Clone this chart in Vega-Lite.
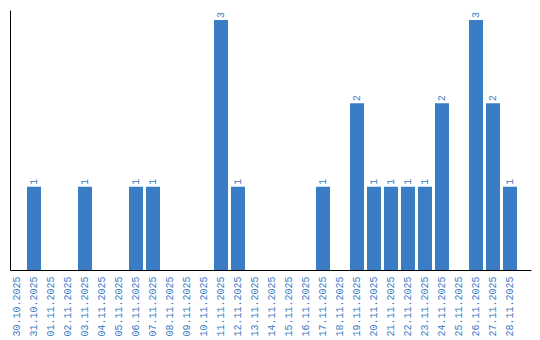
{
  "$schema": "https://vega.github.io/schema/vega-lite/v6.json",
  "width": 521,
  "height": 260,
  "autosize": "none",
  "padding": {"left": 10, "top": 10, "right": 9, "bottom": 70},
  "background": "white",
  "config": {"view": {"stroke": null}},
  "data": {"values": [
    {"date": "30.10.2025", "count": 0},
    {"date": "31.10.2025", "count": 1},
    {"date": "01.11.2025", "count": 0},
    {"date": "02.11.2025", "count": 0},
    {"date": "03.11.2025", "count": 1},
    {"date": "04.11.2025", "count": 0},
    {"date": "05.11.2025", "count": 0},
    {"date": "06.11.2025", "count": 1},
    {"date": "07.11.2025", "count": 1},
    {"date": "08.11.2025", "count": 0},
    {"date": "09.11.2025", "count": 0},
    {"date": "10.11.2025", "count": 0},
    {"date": "11.11.2025", "count": 3},
    {"date": "12.11.2025", "count": 1},
    {"date": "13.11.2025", "count": 0},
    {"date": "14.11.2025", "count": 0},
    {"date": "15.11.2025", "count": 0},
    {"date": "16.11.2025", "count": 0},
    {"date": "17.11.2025", "count": 1},
    {"date": "18.11.2025", "count": 0},
    {"date": "19.11.2025", "count": 2},
    {"date": "20.11.2025", "count": 1},
    {"date": "21.11.2025", "count": 1},
    {"date": "22.11.2025", "count": 1},
    {"date": "23.11.2025", "count": 1},
    {"date": "24.11.2025", "count": 2},
    {"date": "25.11.2025", "count": 0},
    {"date": "26.11.2025", "count": 3},
    {"date": "27.11.2025", "count": 2},
    {"date": "28.11.2025", "count": 1}
  ]},
  "encoding": {
    "x": {"field": "date", "type": "nominal", "sort": null,
      "scale": {"paddingInner": 0.1765, "paddingOuter": 0.412, "align": 0},
      "axis": {"title": null, "labelAngle": 270, "labelAlign": "right", "labelBaseline": "middle",
        "labelFont": "Liberation Mono", "labelFontSize": 10, "labelColor": "#3a7cc4",
        "ticks": false, "labelPadding": 6, "domainColor": "black", "domainWidth": 1}},
    "y": {"field": "count", "type": "quantitative",
      "scale": {"domain": [0, 3.12], "nice": false},
      "axis": {"title": null, "labels": false, "ticks": false, "grid": false, "domainColor": "black", "domainWidth": 1}}
  },
  "layer": [
    {"mark": {"type": "bar", "color": "#3b7dc4"}},
    {"transform": [{"filter": "datum.count > 0"}],
     "mark": {"type": "text", "angle": 270, "align": "left", "baseline": "middle", "dx": 2,
       "font": "Liberation Mono", "fontSize": 10, "color": "#3a7cc4"},
     "encoding": {"text": {"field": "count", "type": "quantitative"}}}
  ]
}
